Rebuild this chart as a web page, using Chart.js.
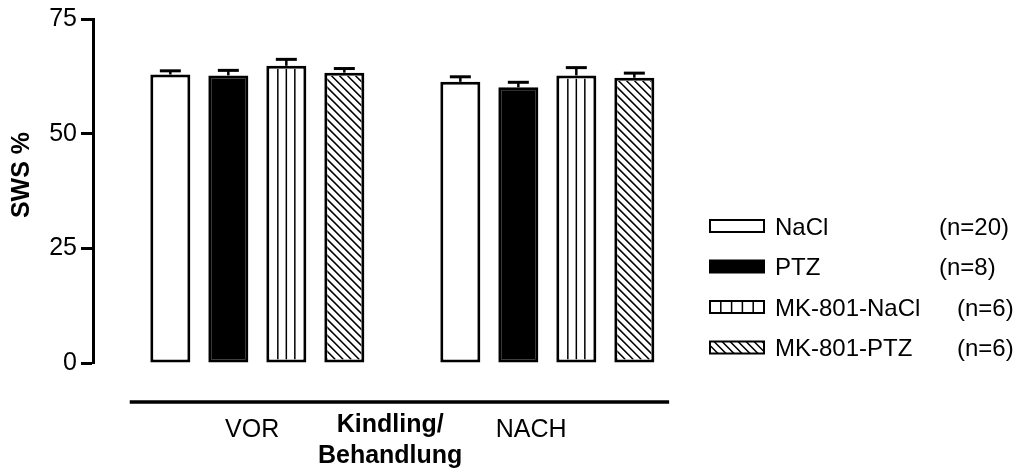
<!DOCTYPE html>
<html>
<head>
<meta charset="utf-8">
<script src="https://cdn.jsdelivr.net/npm/chart.js@4.4.1/dist/chart.umd.min.js"></script>
<style>
  html, body { margin: 0; padding: 0; background: #ffffff; }
  #wrap { width: 1022px; height: 472px; }
</style>
</head>
<body>
<div id="wrap"><canvas id="c" width="1022" height="472"></canvas></div>
<script>
// Measurement periods (groups) and treatment series
const periods = ['VOR', 'NACH'];
const seriesNames = ['NaCl', 'PTZ', 'MK-801-NaCl', 'MK-801-PTZ'];
const seriesN = ['(n=20)', '(n=8)', '(n=6)', '(n=6)'];

// SWS % means and SEM per period (VOR, NACH)
const naclMean = [62.9, 61.3];
const naclErr = [0.8, 1.1];
const ptzMean = [62.7, 60.1];
const ptzErr = [1.1, 1.1];
const mkNaclMean = [64.8, 62.7];
const mkNaclErr = [1.4, 1.7];
const mkPtzMean = [63.3, 62.2];
const mkPtzErr = [0.9, 1.0];

const yTicks = [0, 25, 50, 75];
const yTitle = 'SWS %';
const middleLabel = ['Kindling/', 'Behandlung'];

const FONT = '"Liberation Sans", Arial, sans-serif';

const means = [naclMean, ptzMean, mkNaclMean, mkPtzMean];
const errs = [naclErr, ptzErr, mkNaclErr, mkPtzErr];
const fills = ['#ffffff', '#000000', '#ffffff', '#ffffff'];
const patterns = ['none', 'none', 'vlines', 'diag'];

// slot index on the x axis: 4 bars, one empty slot, 4 bars
const slotOf = (period, series) => 1 + series + period * 5;

const datasets = seriesNames.map((name, si) => ({
  label: name,
  data: periods.map((p, pi) => ({ x: slotOf(pi, si), y: means[si][pi] })),
  err: errs[si],
  pattern: patterns[si],
  backgroundColor: fills[si],
  borderColor: '#000000',
  borderWidth: 3,
  borderSkipped: false,
  grouped: false,
  barPercentage: 0.69,
  categoryPercentage: 1.0
}));

// stripes / hatching drawn inside a rectangle
function drawPattern(ctx, kind, l, t, r, b, vCount, diagStep) {
  if (kind === 'none') return;
  ctx.save();
  ctx.beginPath();
  ctx.rect(l, t, r - l, b - t);
  ctx.clip();
  ctx.strokeStyle = '#000';
  ctx.lineWidth = 1.5;
  ctx.beginPath();
  if (kind === 'vlines') {
    const w = r - l;
    for (let k = 1; k < vCount; k++) {
      const x = l + (w * k) / vCount;
      ctx.moveTo(x, t);
      ctx.lineTo(x, b);
    }
  } else if (kind === 'diag') {
    const h = b - t;
    for (let x0 = l - h; x0 < r + diagStep; x0 += diagStep) {
      ctx.moveTo(x0, t);
      ctx.lineTo(x0 + h, b);
    }
  }
  ctx.stroke();
  ctx.restore();
}

const barDecor = {
  id: 'barDecor',
  afterDatasetsDraw(chart) {
    const ctx = chart.ctx;
    const yScale = chart.scales.y;
    chart.data.datasets.forEach((ds, di) => {
      const meta = chart.getDatasetMeta(di);
      meta.data.forEach((el, i) => {
        const half = el.width / 2;
        const l = el.x - half, r = el.x + half;
        const t = el.y, b = el.base;
        // inner area, inside the 3px border
        drawPattern(ctx, ds.pattern, l + 3, t + 3, r - 3, b - 3, 4, 8);
        // SEM: upper whisker with cap
        const m = ds.data[i].y;
        const yTop = yScale.getPixelForValue(m + ds.err[i]);
        ctx.save();
        ctx.strokeStyle = '#000';
        ctx.lineWidth = 2.5;
        ctx.beginPath();
        ctx.moveTo(el.x, t);
        ctx.lineTo(el.x, yTop);
        ctx.stroke();
        ctx.lineWidth = 3;
        ctx.beginPath();
        ctx.moveTo(el.x - 10.5, yTop);
        ctx.lineTo(el.x + 10.5, yTop);
        ctx.stroke();
        ctx.restore();
      });
    });
  }
};

const annotations = {
  id: 'annotations',
  afterDraw(chart) {
    const ctx = chart.ctx;
    const xs = chart.scales.x;
    const area = chart.chartArea;
    ctx.save();
    ctx.fillStyle = '#000';
    ctx.strokeStyle = '#000';

    // y axis title
    ctx.save();
    ctx.translate(22, 175);
    ctx.rotate(-Math.PI / 2);
    ctx.font = 'bold 25px ' + FONT;
    ctx.textAlign = 'center';
    ctx.textBaseline = 'middle';
    ctx.fillText(yTitle, 0, 0);
    ctx.restore();

    // baseline bar under the groups
    const lineY = area.bottom + 39;
    ctx.lineWidth = 3.5;
    ctx.beginPath();
    ctx.moveTo(xs.getPixelForValue(0.3), lineY);
    ctx.lineTo(xs.getPixelForValue(9.6), lineY);
    ctx.stroke();

    // group labels
    ctx.textAlign = 'center';
    ctx.textBaseline = 'alphabetic';
    ctx.font = '25px ' + FONT;
    ctx.fillText(periods[0], xs.getPixelForValue(2.41), area.bottom + 74);
    ctx.fillText(periods[1], xs.getPixelForValue(7.22), area.bottom + 74);
    ctx.font = 'bold 25px ' + FONT;
    ctx.fillText(middleLabel[0], xs.getPixelForValue(4.79), area.bottom + 69);
    ctx.fillText(middleLabel[1], xs.getPixelForValue(4.79), area.bottom + 100);

    // legend
    const boxL = 710, boxW = 54, boxH = 12;
    const textX = 775;
    ctx.font = '24px ' + FONT;
    ctx.textAlign = 'left';
    seriesNames.forEach((name, i) => {
      const cy = 226 + i * 40.5;
      const top = cy - boxH / 2;
      ctx.fillStyle = fills[i];
      ctx.fillRect(boxL, top, boxW, boxH);
      drawPattern(ctx, patterns[i], boxL, top, boxL + boxW, top + boxH, 5, 8);
      ctx.lineWidth = 2;
      ctx.strokeStyle = '#000';
      ctx.strokeRect(boxL, top, boxW, boxH);
      ctx.fillStyle = '#000';
      const base = cy + 8.5;
      ctx.fillText(name, textX, base);
      const nX = i < 2 ? 939 : 957;
      ctx.fillText(seriesN[i], nX, base);
    });
    ctx.restore();
  }
};

new Chart(document.getElementById('c'), {
  type: 'bar',
  data: { datasets },
  options: {
    responsive: false,
    animation: false,
    devicePixelRatio: 1,
    layout: { padding: { left: 0, right: 349, top: 14, bottom: 109 } },
    plugins: { legend: { display: false }, tooltip: { enabled: false } },
    scales: {
      x: { type: 'linear', min: -1 / 3, max: 29 / 3, offset: false, display: false },
      y: {
        min: 0,
        max: 75,
        afterBuildTicks(scale) { scale.ticks = yTicks.map(v => ({ value: v })); },
        afterFit(scale) { scale.width = 93; },
        ticks: {
          color: '#000',
          padding: 4,
          font: { family: FONT, size: 25 }
        },
        grid: {
          display: true,
          drawOnChartArea: false,
          drawTicks: true,
          tickLength: 12,
          tickWidth: 3,
          tickColor: '#000'
        },
        border: { display: true, color: '#000', width: 3 }
      }
    }
  },
  plugins: [barDecor, annotations]
});
</script>
</body>
</html>
